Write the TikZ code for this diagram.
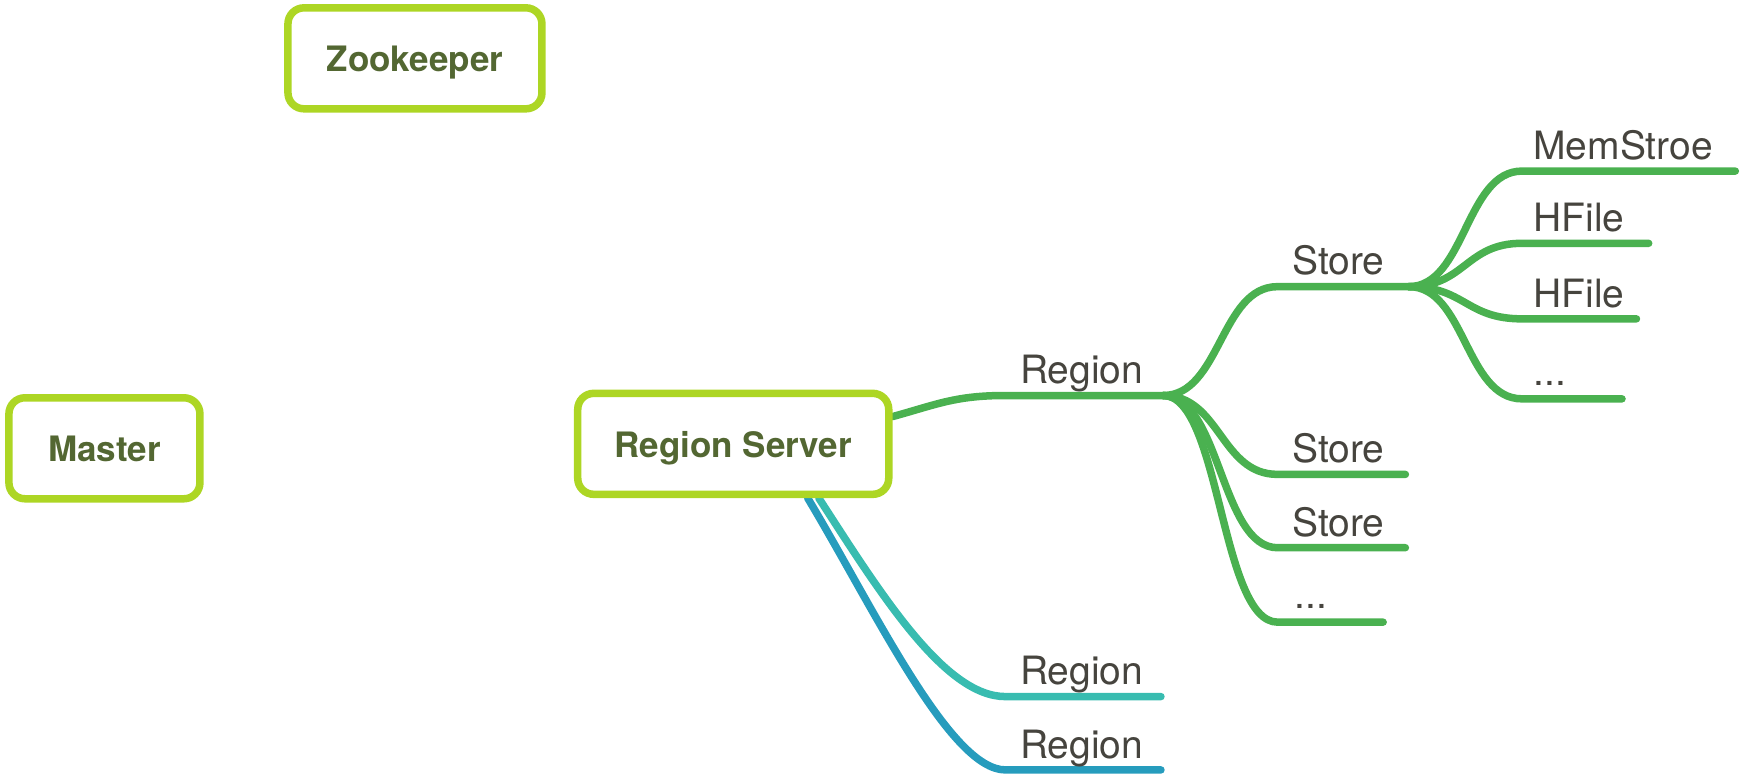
\documentclass[tikz,border=0pt]{standalone}
\usepackage{fontspec}
\setmainfont{TeX Gyre Heros}
\usetikzlibrary{calc}
\definecolor{boxlime}{RGB}{173,214,36}
\definecolor{boxtext}{RGB}{83,103,50}
\definecolor{lbltext}{RGB}{70,68,62}
\definecolor{brgreen}{RGB}{74,177,80}
\definecolor{brteal}{RGB}{56,188,176}
\definecolor{brblue}{RGB}{38,156,189}
\pgfdeclarelayer{bg}
\pgfsetlayers{bg,main}
\tikzset{
	topicbox/.style={draw=boxlime, line width=7.5pt, rounded corners=16pt, fill=white, text=boxtext, inner sep=0pt, text height=27pt, text depth=0pt, minimum width=254pt, minimum height=101pt, font=\bfseries\fontsize{35}{42}\selectfont},
	lbl/.style={anchor=base west, inner sep=0pt, text=lbltext, font=\fontsize{39}{46}\selectfont},
	greenline/.style={draw=brgreen, line width=7.5pt, line cap=round},
	tealline/.style={draw=brteal, line width=7.5pt, line cap=round},
	blueline/.style={draw=brblue, line width=7.5pt, line cap=round}
}
\def\branch[#1](#2)(#3)(#4){\draw[#1] (#2) .. controls ($(#2)!0.5!(#2 -| #3)$) and ($(#3)!0.5!(#3 -| #2)$) .. (#3) -- (#4);}

\begin{document}
\begin{tikzpicture}[x=1.11097pt, y={(0pt,-1.11097pt)}]
			%%%%% START %%%%%
			\useasboundingbox (0,0) rectangle (1568,702);
			
			\node[topicbox] (zk) at (373.5,52.5) {Zookeeper};
			\node[topicbox, minimum width=191pt] (ms) at (94,403.5) {Master};
			\node[topicbox, minimum width=311pt] (rs) at (660,399.5) {Region Server};
			
			\coordinate (rs-r) at ($(rs.east)+(0,-24.5)$);
			\coordinate (rs-b1) at ($(rs.south)+(77,0)$);
			\coordinate (rs-b2) at ($(rs.south)+(67,0)$);
			
			\coordinate (rg1-s) at (905,356);  \coordinate (rg1-e) at (1047,356);
			\coordinate (st1-s) at (1150,258); \coordinate (st1-e) at (1268,258);
			\coordinate (st2-s) at (1150,427); \coordinate (st2-e) at (1265,427);
			\coordinate (st3-s) at (1150,493); \coordinate (st3-e) at (1265,493);
			\coordinate (dt1-s) at (1150,560); \coordinate (dt1-e) at (1245,560);
			\coordinate (mem-s) at (1370,154); \coordinate (mem-e) at (1562,154);
			\coordinate (hf1-s) at (1370,219); \coordinate (hf1-e) at (1484,219);
			\coordinate (hf2-s) at (1370,287); \coordinate (hf2-e) at (1473,287);
			\coordinate (dt2-s) at (1370,359); \coordinate (dt2-e) at (1460,359);
			\coordinate (rg2-s) at (905,627);  \coordinate (rg2-e) at (1045,627);
			\coordinate (rg3-s) at (905,693);  \coordinate (rg3-e) at (1045,693);
			
			\node[lbl] (rg1) at ($(rg1-s)+(13,-10.5)$) {Region};
			\node[lbl] (st1) at ($(st1-s)+(13,-10.5)$) {Store};
			\node[lbl] (st2) at ($(st2-s)+(13,-10.5)$) {Store};
			\node[lbl] (st3) at ($(st3-s)+(13,-10.5)$) {Store};
			\node[lbl] (dt1) at ($(dt1-s)+(15,-12)$) {...};
			\node[lbl] (mem) at ($(mem-s)+(10,-10.5)$) {MemStroe};
			\node[lbl] (hf1) at ($(hf1-s)+(10,-10.5)$) {HFile};
			\node[lbl] (hf2) at ($(hf2-s)+(10,-10.5)$) {HFile};
			\node[lbl] (dt2) at ($(dt2-s)+(10,-12)$) {...};
			\node[lbl] (rg2) at ($(rg2-s)+(13,-10.5)$) {Region};
			\node[lbl] (rg3) at ($(rg3-s)+(13,-10.5)$) {Region};
			
			\begin{pgfonlayer}{bg}
			\draw[greenline] (rs-r) .. controls +(40,-11) and +(-45,0) .. (rg1-s) -- (rg1-e);
			\branch[greenline](rg1-e)(st1-s)(st1-e)
			\branch[greenline](rg1-e)(st2-s)(st2-e)
			\branch[greenline](rg1-e)(st3-s)(st3-e)
			\branch[greenline](rg1-e)(dt1-s)(dt1-e)
			\branch[greenline](st1-e)(mem-s)(mem-e)
			\branch[greenline](st1-e)(hf1-s)(hf1-e)
			\branch[greenline](st1-e)(hf2-s)(hf2-e)
			\branch[greenline](st1-e)(dt2-s)(dt2-e)
			\draw[tealline] (rs-b1) .. controls +(55,85) and +(-55,0) .. (rg2-s) -- (rg2-e);
			\draw[blueline] (rs-b2) .. controls +(60,100) and +(-50,0) .. (rg3-s) -- (rg3-e);
			\end{pgfonlayer}
			%%%%% END %%%%%
		\end{tikzpicture}
\end{document}
